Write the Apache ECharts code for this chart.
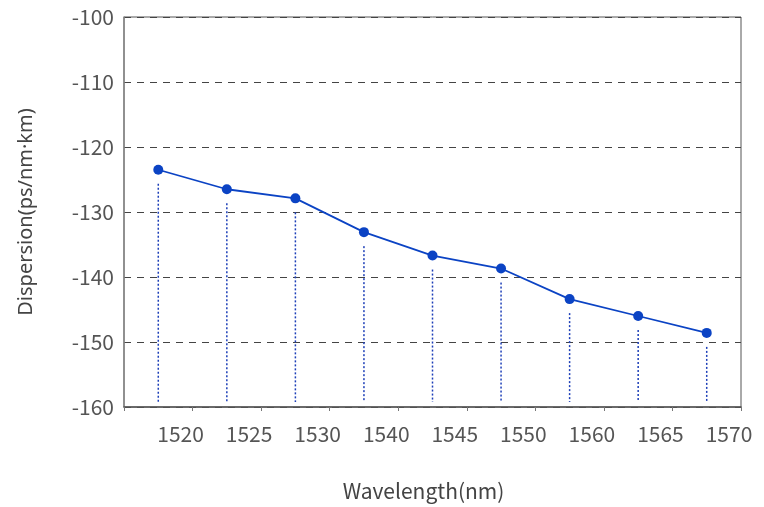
<!DOCTYPE html>
<html><head><meta charset="utf-8">
<script src="https://cdn.jsdelivr.net/npm/echarts@6/dist/echarts.min.js"></script>
<style>html,body{margin:0;padding:0;background:#fff}#c{width:764px;height:507px}</style>
</head><body><div id="c"></div>
<script>
const tickLabels = ['1520','1525','1530','1540','1545','1550','1560','1565','1570'];
const dispersion = [-123.5, -126.5, -127.9, -133.1, -136.7, -138.7, -143.4, -146.0, -148.6];
const yMin = -160, yMax = -100, yStep = 10;

const pts = dispersion.map((v, i) => [i + 0.5, v]);
const font = '"Noto Sans CJK SC", "Noto Sans", sans-serif';
const latin = '"Noto Sans", "Noto Sans CJK SC", sans-serif';
const chart = echarts.init(document.getElementById('c'));
chart.setOption({
  animation: false,
  grid: { left: 124, right: 23, top: 17, bottom: 99, show: true, borderColor: '#555', borderWidth: 1 },
  xAxis: {
    type: 'value', min: 0, max: tickLabels.length, interval: 1,
    name: 'Wavelength(nm)', nameLocation: 'middle', nameGap: 74,
    nameTextStyle: { fontFamily: font, fontSize: 21, color: '#444', padding: [0, 18, 0, 0] },
    axisLine: { show: true, lineStyle: { color: '#555', width: 1.5 } },
    axisTick: { show: true, length: 4, lineStyle: { color: '#777' } },
    axisLabel: { fontFamily: font, fontSize: 21, color: '#555', margin: 17, padding: [0, 24, 0, 0],
      formatter: v => (v >= 1 ? tickLabels[v - 1] : '') },
    splitLine: { show: false }
  },
  yAxis: {
    type: 'value', min: yMin, max: yMax, interval: yStep,
    name: 'Dispersion(ps/nm·km)', nameLocation: 'middle', nameGap: 88, nameRotate: 90,
    nameTextStyle: { fontFamily: latin, fontSize: 20, color: '#444' },
    axisLine: { show: true, lineStyle: { color: '#888', width: 1.5 } },
    axisTick: { show: false },
    axisLabel: { fontFamily: font, fontSize: 21, color: '#555', margin: 10 },
    splitLine: { show: true, lineStyle: { color: '#444', type: [7, 6], width: 1 } }
  },
  series: [
    {
      type: 'custom',
      data: pts,
      z: 1,
      renderItem: function (params, api) {
        const top = api.coord([api.value(0), api.value(1)]);
        const bot = api.coord([api.value(0), yMin]);
        return {
          type: 'line',
          shape: { x1: top[0], y1: top[1] + 14, x2: bot[0], y2: bot[1] - 5 },
          style: { stroke: '#1d3fb8', lineWidth: 1.5, lineDash: [2, 2] }
        };
      }
    },
    {
      type: 'line',
      data: pts,
      z: 3,
      symbol: 'circle', symbolSize: 10,
      lineStyle: { color: '#0b43c4', width: 1.8 },
      itemStyle: { color: '#0b43c4' }
    }
  ]
});
</script></body></html>
